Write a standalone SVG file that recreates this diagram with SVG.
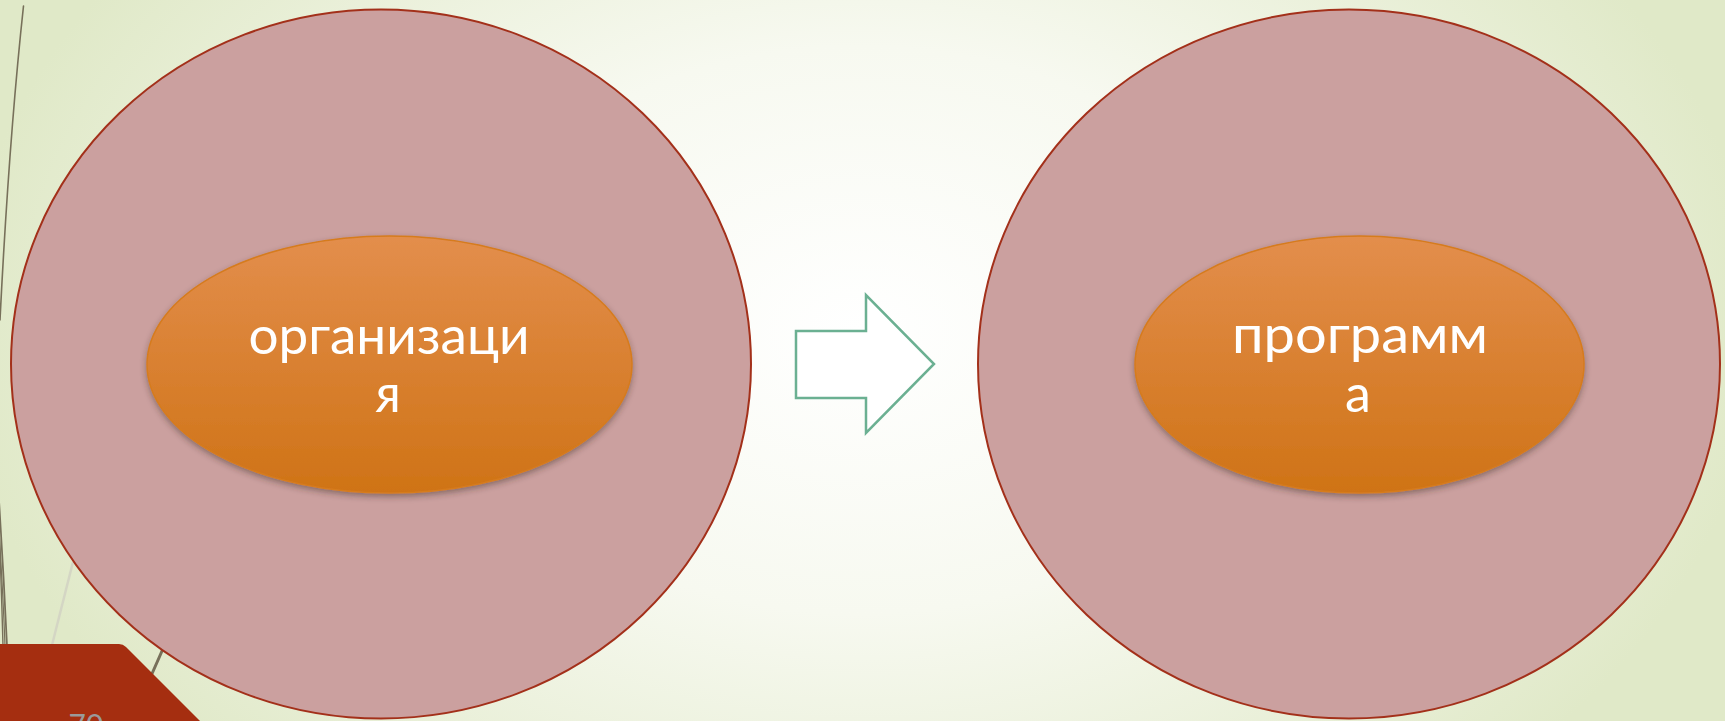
<svg xmlns="http://www.w3.org/2000/svg" width="1725" height="721" viewBox="0 0 1725 721">
<defs>
<radialGradient id="bg" cx="860" cy="330" r="900" gradientUnits="userSpaceOnUse" gradientTransform="translate(860 330) scale(1 0.7) translate(-860 -330)">
<stop offset="0" stop-color="#ffffff"/>
<stop offset="0.45" stop-color="#f7f9f0"/>
<stop offset="1" stop-color="#e0e9c8"/>
</radialGradient>
<linearGradient id="inner" x1="0" y1="0" x2="0" y2="1">
<stop offset="0" stop-color="#e38e4c"/>
<stop offset="1" stop-color="#cf7316"/>
</linearGradient>
<filter id="sh" x="-10%" y="-10%" width="120%" height="130%">
<feDropShadow dx="0" dy="3" stdDeviation="3" flood-color="#3a2a20" flood-opacity="0.45"/>
</filter>
<style>
.outer{fill:#cba09f;stroke:#a3301a;stroke-width:2}
.inner{fill:url(#inner);stroke:#d67b1e;stroke-width:1.5;filter:url(#sh)}
.lbl{font-family:Lato,"Liberation Sans",sans-serif;font-weight:400;font-size:52px;fill:#ffffff;text-anchor:middle}
.stem{fill:none;stroke:#77705a;stroke-linecap:round}
</style>
</defs>
<rect x="0" y="0" width="1725" height="721" fill="url(#bg)"/>
<g id="decor">
<path class="stem" d="M23.5,6 Q9,140 0,320" stroke-width="1.6"/>
<path class="stem" d="M-3,470 Q3,560 7,646" stroke-width="1.8"/>
<path class="stem" d="M-3,480 Q1,570 3,646" stroke-width="1.4"/>
<path class="stem" d="M-3,500 Q3,590 5,646" stroke-width="1.2"/>
<path d="M73,562 L52,645" fill="none" stroke="#d4d6c4" stroke-width="2.5"/>
<path class="stem" d="M162,651 L151,676" stroke-width="3"/>
</g>
<g id="node-left">
<ellipse class="outer" cx="381" cy="364" rx="370" ry="354.5"/>
<ellipse class="inner" cx="389.5" cy="364.5" rx="242.5" ry="128.5"/>
<text class="lbl" x="389" y="354" textLength="281" lengthAdjust="spacingAndGlyphs">организаци</text>
<text class="lbl" x="388" y="412">я</text>
</g>
<g id="node-right">
<ellipse class="outer" cx="1349" cy="364" rx="371" ry="354.5"/>
<ellipse class="inner" cx="1359.5" cy="364.5" rx="224.5" ry="128.5"/>
<text class="lbl" x="1360" y="353" textLength="256" lengthAdjust="spacingAndGlyphs">программ</text>
<text class="lbl" x="1358" y="412">а</text>
</g>
<g id="connectors">
<path d="M796,331 L866,331 L866,295 L934,364 L866,433 L866,398 L796,398 Z" fill="#ffffff" stroke="#6bb092" stroke-width="2.5" stroke-linejoin="miter"/>
</g>
<g id="slide-number">
<path d="M0,644 L119,644 Q123,644 126,647 L200,721 L0,721 Z" fill="#a52e10"/>
<text x="86" y="736" font-family="Lato,'Liberation Sans',sans-serif" font-size="30" fill="#9a9a9a" text-anchor="middle">70</text>
</g>
</svg>
